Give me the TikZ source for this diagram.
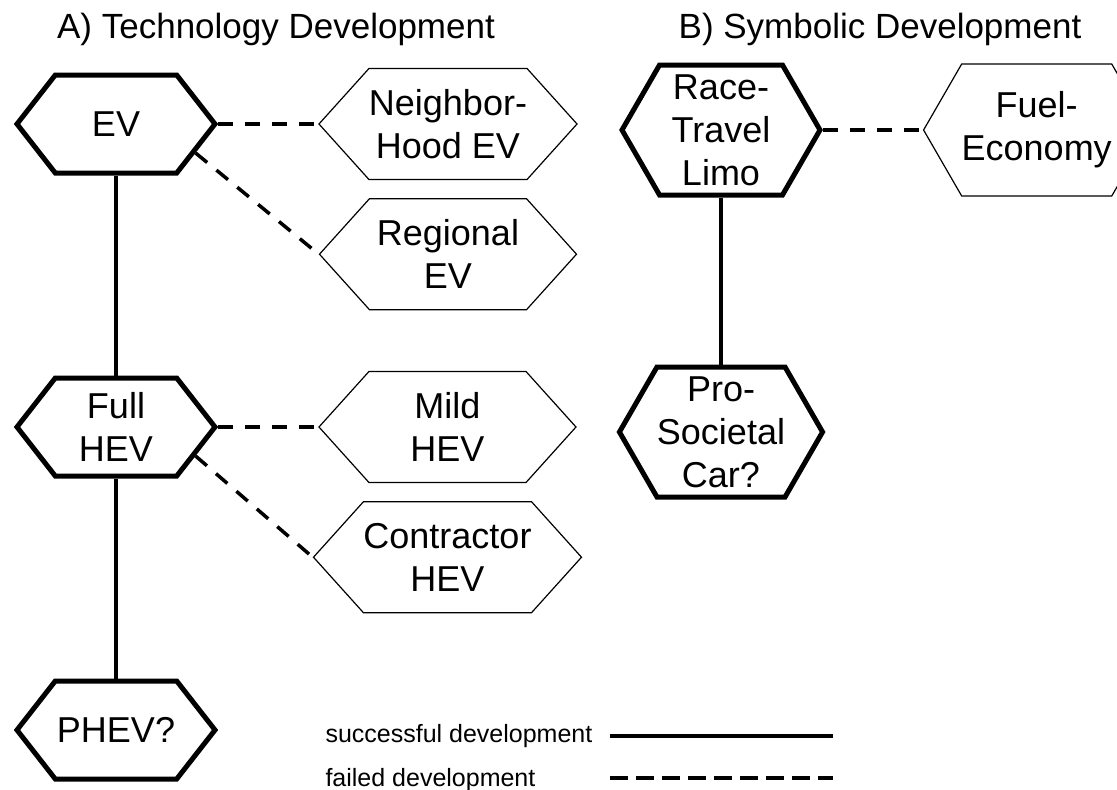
\documentclass[tikz,border=0pt]{standalone}
\usepackage{fontspec}
\setmainfont{Liberation Sans}
\usetikzlibrary{positioning,shapes.symbols}

\begin{document}
\begin{tikzpicture}[
		x=1pt, y=-1pt,
		node distance = 18pt and 100pt,
		hexbox/.style = {draw, signal, signal to=east and west, align=center, inner sep=0pt, font=\fontsize{36}{43}\selectfont},
		techbox/.style = {hexbox, line width=5pt, minimum width=198pt, minimum height=98pt, signal pointer angle=104},
		symbbox/.style = {hexbox, line width=5pt, minimum width=198pt, minimum height=130pt, signal pointer angle=120},
		altbox/.style = {hexbox, line width=1.2pt, minimum width=257pt, minimum height=111pt, signal pointer angle=96},
		title/.style = {anchor=base, font=\fontsize{35}{42}\selectfont},
		legend/.style = {anchor=base west, font=\fontsize{25}{30}\selectfont},
		line/.style = {draw, line width=3.5pt},
		failline/.style = {line, dash pattern=on 15pt off 12pt}
	]
	\useasboundingbox (0,0) rectangle (1117,790);

	% Titulos
	\node [title] (titleA) at (276,38) {A) Technology Development};
	\node [title] (titleB) at (880,38) {B) Symbolic Development};

	% Nodos A
	\node [techbox] (ev) at (116,124) {EV};
	\node [altbox, right=of ev] (neighbor) {Neighbor-\\Hood EV};
	\node [altbox, below=of neighbor] (regional) {Regional\\EV};
	\node [techbox, below=200pt of ev] (fullhev) {Full\\HEV};
	\node [altbox, right=of fullhev] (mild) {Mild\\HEV};
	\node [altbox, below=of mild] (contractor) {Contractor\\HEV};
	\node [techbox, below=200pt of fullhev] (phev) {PHEV?};

	% Nodos B
	\node [symbbox] (race) at (721,130) {Race-\\Travel\\Limo};
	\node [altbox, minimum width=190pt, minimum height=132pt, signal pointer angle=120, right=of race] (fuel) {Fuel-\\Economy};
	\node [symbbox, below=167pt of race] (prosocial) {Pro-\\Societal\\Car?};

	% Lineas
	\draw [line] (ev.south) -- (fullhev.north);
	\draw [line] (fullhev.south) -- (phev.north);
	\draw [line] (race.south) -- (prosocial.north);
	\draw [failline] (ev.east) -- (neighbor.west);
	\draw [failline] (ev.-20) -- (regional.west);
	\draw [failline] (fullhev.east) -- (mild.west);
	\draw [failline] (fullhev.-20) -- (contractor.west);
	\draw [failline] (race.east) -- (fuel.west);

	% Leyenda
	\node [legend] (succ) at (322,742) {successful development};
	\node [legend] (fail) at (322,786) {failed development};
	\coordinate (succ a) at (610,736);
	\coordinate (succ b) at (833,736);
	\coordinate (fail a) at (610,778);
	\coordinate (fail b) at (833,778);
	\draw [line, line width=4pt] (succ a) -- (succ b);
	\draw [line, line width=4pt, dash pattern=on 18pt off 8pt] (fail a) -- (fail b);
\end{tikzpicture}
\end{document}
